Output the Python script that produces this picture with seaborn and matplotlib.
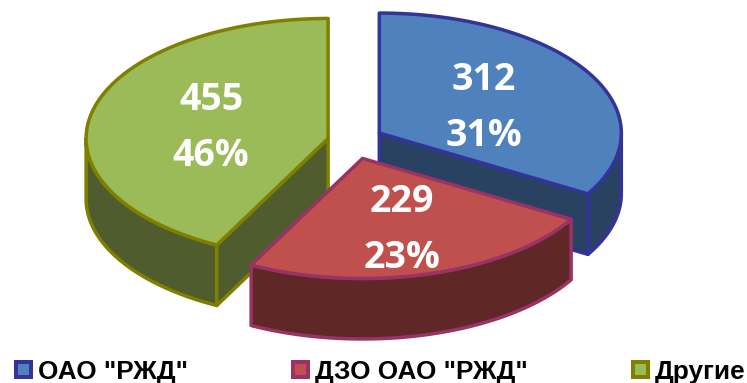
import numpy as np
import pandas as pd
import matplotlib
matplotlib.use("Agg")
import matplotlib.pyplot as plt
from matplotlib.patches import Patch
import seaborn as sns

categories = ['ОАО "РЖД"', 'ДЗО ОАО "РЖД"', 'Другие']
values = [312, 229, 455]
percents = ['31%', '23%', '46%']

top_colors = sns.color_palette(["#4F81BD", "#C0504D", "#9BBB59"])
side_colors = sns.color_palette(["#2A4262", "#5F2725", "#4F5D2E"])
edge_colors = sns.color_palette(["#333399", "#993366", "#808000"])

sns.set_theme(style="white")
plt.rcParams["font.family"] = ["Open Sans", "DejaVu Sans"]

# layout of the projected pie, in figure pixels
CX, CY = 355.5, 142.0
RX, RY = 242.0, 120.0
DEPTH = 60.5
EXPLODE_X, EXPLODE_Y = 28.0, 17.0
WARP = 5.1
LW = 3.5 * 72 / 100
LABEL_POS = [(484, 80), (402, 202), (211, 100)]
LABEL_GAP = 56


def warp(t):
    """Perspective-like shift of the clock angle (degrees)."""
    return t + WARP * (1 - np.cos(np.radians(t))) ** 1.25


def pt(cx, cy, t):
    r = np.radians(t)
    return cx + RX * np.sin(r), cy - RY * np.cos(r)


df = pd.DataFrame({"cat": categories, "val": values})
df["end"] = df["val"].cumsum() / df["val"].sum() * 360
df["start"] = df["end"].shift(fill_value=0)

fig = plt.figure(figsize=(7.47, 3.83), dpi=100)
ax = fig.add_axes([0, 0, 1, 1])
ax.set_xlim(0, 747)
ax.set_ylim(383, 0)
ax.axis("off")


def poly(xs, ys, face, edge, z):
    ax.fill(xs, ys, facecolor=face, edgecolor=edge, linewidth=LW,
            joinstyle="round", zorder=z)


for order, i in enumerate([2, 0, 1]):
    row = df.iloc[i]
    t0, t1 = warp(row["start"]), warp(row["end"])
    mid = warp((row["start"] + row["end"]) / 2)
    cx = CX + EXPLODE_X * np.sin(np.radians(mid))
    cy = CY - EXPLODE_Y * np.cos(np.radians(mid))
    z = 2 + order * 5

    # outer wall, the part that faces the viewer
    a0, a1 = max(t0, 90), min(t1, 270)
    if a1 > a0:
        ts = np.linspace(a0, a1, 80)
        x, y = pt(cx, cy, ts)
        poly(np.r_[x, x[::-1]], np.r_[y, y[::-1] + DEPTH],
             side_colors[i], edge_colors[i], z)

    # cut walls, when they face the viewer
    for t, vis in ((t1, 0 < t1 < 180), (t0, 180 < t0 < 360)):
        if vis:
            x, y = pt(cx, cy, t)
            poly([cx, x, x, cx], [cy, y, y + DEPTH, cy + DEPTH],
                 side_colors[i], edge_colors[i], z + 1)

    # top face
    ts = np.linspace(t0, t1, 160)
    x, y = pt(cx, cy, ts)
    poly(np.r_[cx, x], np.r_[cy, y], top_colors[i], edge_colors[i], z + 2)

for i, (lx, ly) in enumerate(LABEL_POS):
    ax.text(lx, ly, str(values[i]), color="white", fontsize=27, fontweight="bold",
            ha="center", va="center", zorder=30)
    ax.text(lx, ly + LABEL_GAP, percents[i], color="white", fontsize=27, fontweight="bold",
            ha="center", va="center", zorder=30)

handles = [Patch(facecolor=top_colors[i], edgecolor=edge_colors[i], linewidth=4 * 72 / 100,
                 label=categories[i]) for i in range(3)]
FS = 18.8
PX = FS * 100 / 72
ax.legend(handles=handles, ncol=3, frameon=False, loc="lower left",
          bbox_to_anchor=(15 / 747, -2 / 383), borderpad=0.05, borderaxespad=0,
          handlelength=14.5 / PX, handleheight=14.5 / PX, handletextpad=7 / PX,
          columnspacing=105.5 / PX, labelcolor="black",
          prop={"family": "Liberation Sans", "weight": "bold", "size": FS})

fig.savefig("out.png", dpi=100)
